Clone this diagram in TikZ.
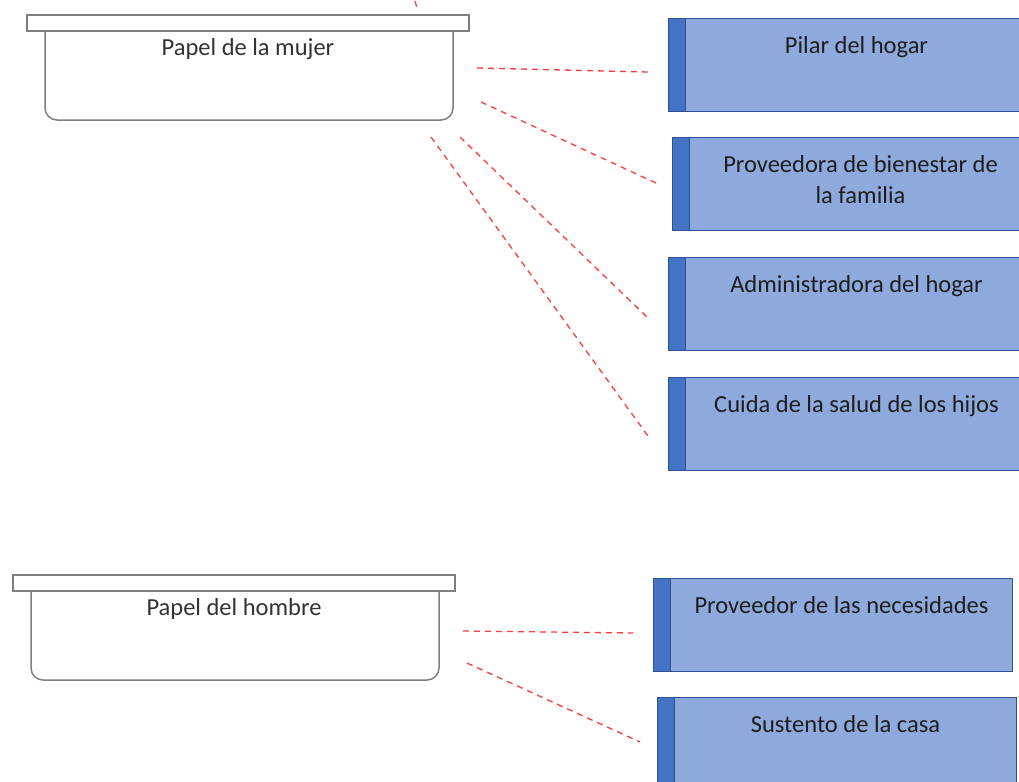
\documentclass[tikz,border=0pt]{standalone}
\usepackage{fontspec}
\setmainfont{Carlito}
\usepackage{tikz}
\usetikzlibrary{positioning}
\definecolor{boxfill}{HTML}{8EA9DB}
\definecolor{barblue}{HTML}{4472C4}
\definecolor{boxedge}{HTML}{2F528F}
\definecolor{traygray}{HTML}{7F7F7F}
\definecolor{dashred}{HTML}{FF3B3B}
\definecolor{bodytext}{HTML}{1E1E1E}
\tikzset{
    rolbox/.style={draw=boxedge, fill=boxfill, line width=0.5pt, anchor=north west,
        minimum width=179.5pt, minimum height=46.5pt, inner sep=0pt,
        path picture={
            \fill[barblue] (path picture bounding box.north west) rectangle ([xshift=8.5pt]path picture bounding box.south west);
            \draw[boxedge, line width=0.6pt] ([xshift=8.5pt]path picture bounding box.north west) -- ([xshift=8.5pt]path picture bounding box.south west);
        }},
    roltext/.style={anchor=base, align=center, inner sep=0pt, text=bodytext, font=\fontsize{12.25}{15.5}\selectfont},
    traytext/.style={anchor=base, inner sep=0pt, text=black!80, font=\fontsize{12.25}{15.5}\selectfont},
    lid/.style={draw=traygray, fill=white, line width=0.75pt},
    traybody/.style={draw=traygray, line width=0.75pt, rounded corners=6pt},
    dashline/.style={draw=dashred, line width=0.65pt, dash pattern=on 3pt off 2.5pt}
}

\begin{document}
\begin{tikzpicture}[x=0.5pt, y=-0.5pt]
    \useasboundingbox (0,0) rectangle (1019,782);

    \draw[traybody] (45,31) -- (45,120) -- (453,120) -- (453,31);
    \draw[lid] (27,15) rectangle (469,31);
    \node[traytext] (mujer) at (248,55) {Papel de la mujer};

    \draw[traybody] (31,591) -- (31,680) -- (439,680) -- (439,591);
    \draw[lid] (13,575) rectangle (455,591);
    \node[traytext] (hombre) at (234,615) {Papel del hombre};

    \node[rolbox] (pilar) at (668,18) {};
    \node[rolbox] (bienestar) at (672,137) {};
    \node[rolbox] (admin) at (668,257) {};
    \node[rolbox] (salud) at (668,377) {};
    \node[rolbox] (necesidades) at (653,578) {};
    \node[rolbox] (sustento) at (657,697) {};

    \node[roltext] (pilartxt) at ([xshift=4.25pt, yshift=-17.5pt]pilar.north) {Pilar del hogar};
    \node[roltext] (bienestartxt) at ([xshift=4.25pt, yshift=-33pt]bienestar.north) {Proveedora de bienestar de\\la familia};
    \node[roltext] (admintxt) at ([xshift=4.25pt, yshift=-17.5pt]admin.north) {Administradora del hogar};
    \node[roltext] (saludtxt) at ([xshift=4.25pt, yshift=-17.5pt]salud.north) {Cuida de la salud de los hijos};
    \node[roltext] (necesidadestxt) at ([xshift=4.25pt, yshift=-17.5pt]necesidades.north) {Proveedor de las necesidades};
    \node[roltext] (sustentotxt) at ([xshift=4.25pt, yshift=-17.5pt]sustento.north) {Sustento de la casa};

    \coordinate (m1) at (477,68);
    \coordinate (m2) at (481,102);
    \coordinate (m3) at (460,137);
    \coordinate (m4) at (431,137);
    \coordinate (h1) at (463,631);
    \coordinate (h2) at (467,663);
    \coordinate (r1) at (648,72);
    \coordinate (r2) at (656,183);
    \coordinate (r3) at (648,318);
    \coordinate (r4) at (648,436);
    \coordinate (r5) at (633,633);
    \coordinate (r6) at (640,742);
    \coordinate (t1) at (415,1);
    \coordinate (t2) at (417,8);

    \draw[dashline] (m1) -- (r1);
    \draw[dashline] (m2) -- (r2);
    \draw[dashline] (m3) -- (r3);
    \draw[dashline] (m4) -- (r4);
    \draw[dashline] (h1) -- (r5);
    \draw[dashline] (h2) -- (r6);
    \draw[dashline] (t1) -- (t2);
\end{tikzpicture}
\end{document}
